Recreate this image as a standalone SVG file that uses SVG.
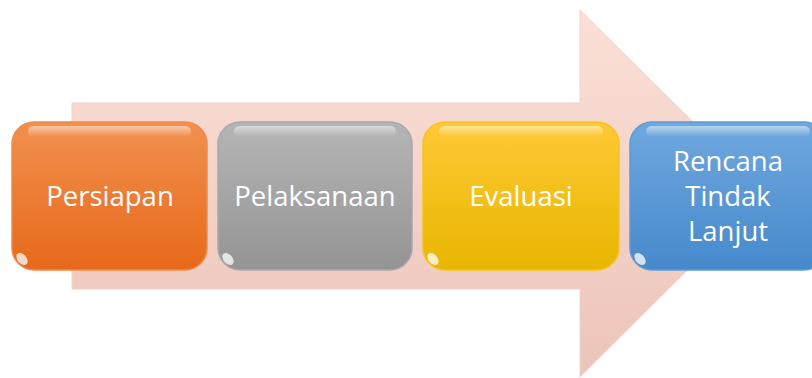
<svg xmlns="http://www.w3.org/2000/svg" width="812" height="378" viewBox="0 0 812 378">
<style>
.lbl{font-family:"Open Sans","Noto Sans",sans-serif;font-size:27.5px;fill:#ffffff;text-anchor:middle}
.box{stroke-width:1.5}
.spot{fill:#ffffff;opacity:0.75}
</style>
<defs>
<linearGradient id="gArrow" x1="0" y1="0" x2="0" y2="1">
<stop offset="0" stop-color="#fbe0d8"/>
<stop offset="1" stop-color="#ecc4b9"/>
</linearGradient>
<linearGradient id="gOrange" x1="0" y1="0" x2="0" y2="1">
<stop offset="0" stop-color="#f2904f"/>
<stop offset="1" stop-color="#e6691a"/>
</linearGradient>
<linearGradient id="gGray" x1="0" y1="0" x2="0" y2="1">
<stop offset="0" stop-color="#b5b5b5"/>
<stop offset="1" stop-color="#949494"/>
</linearGradient>
<linearGradient id="gYellow" x1="0" y1="0" x2="0" y2="1">
<stop offset="0" stop-color="#ffc935"/>
<stop offset="1" stop-color="#e8b600"/>
</linearGradient>
<linearGradient id="gBlue" x1="0" y1="0" x2="0" y2="1">
<stop offset="0" stop-color="#6fa8df"/>
<stop offset="1" stop-color="#4689cb"/>
</linearGradient>
<linearGradient id="gHl" x1="0" y1="0" x2="0" y2="1">
<stop offset="0" stop-color="#ffffff" stop-opacity="0.5"/>
<stop offset="1" stop-color="#ffffff" stop-opacity="0"/>
</linearGradient>
</defs>
<g id="arrow">
<path d="M72,103 L580,103 L580,10 L765,193 L580,377 L580,289 L72,289 Z" fill="url(#gArrow)" stroke="#f3d3ca" stroke-width="1"/>
</g>
<g id="connectors"></g>
<g id="n1">
<rect class="box" x="12" y="122" width="195" height="148" rx="22" fill="url(#gOrange)" stroke="#f08a4b"/>
<rect x="28" y="126" width="163" height="11" rx="5.5" fill="url(#gHl)"/>
<ellipse class="spot" cx="22" cy="259" rx="4.5" ry="7" transform="rotate(-40 22 259)"/>
<text class="lbl" x="110" y="206">Persiapan</text>
</g>
<g id="n2">
<rect class="box" x="218" y="122" width="194" height="148" rx="22" fill="url(#gGray)" stroke="#a8a8a8"/>
<rect x="234" y="126" width="162" height="11" rx="5.5" fill="url(#gHl)"/>
<ellipse class="spot" cx="228" cy="259" rx="4.5" ry="7" transform="rotate(-40 228 259)"/>
<text class="lbl" x="315" y="206">Pelaksanaan</text>
</g>
<g id="n3">
<rect class="box" x="423" y="122" width="196" height="148" rx="22" fill="url(#gYellow)" stroke="#f8c21c"/>
<rect x="439" y="126" width="164" height="11" rx="5.5" fill="url(#gHl)"/>
<ellipse class="spot" cx="433" cy="259" rx="4.5" ry="7" transform="rotate(-40 433 259)"/>
<text class="lbl" x="521" y="206">Evaluasi</text>
</g>
<g id="n4">
<rect class="box" x="630" y="122" width="196" height="148" rx="22" fill="url(#gBlue)" stroke="#5d9ad7"/>
<rect x="646" y="126" width="164" height="11" rx="5.5" fill="url(#gHl)"/>
<ellipse class="spot" cx="640" cy="259" rx="4.5" ry="7" transform="rotate(-40 640 259)"/>
<text class="lbl" x="728" y="171">Rencana</text>
<text class="lbl" x="728" y="206">Tindak</text>
<text class="lbl" x="728" y="241">Lanjut</text>
</g>
</svg>
